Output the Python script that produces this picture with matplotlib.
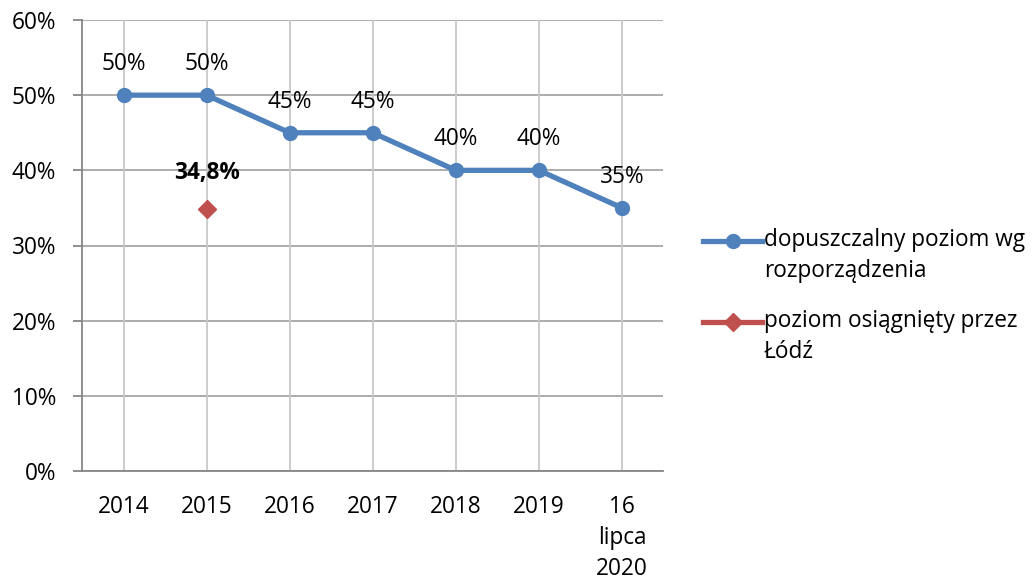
import matplotlib
matplotlib.use("Agg")
import matplotlib.pyplot as plt
from matplotlib.lines import Line2D

plt.rcParams['font.family'] = ['Open Sans', 'DejaVu Sans']

categories = ["2014", "2015", "2016", "2017", "2018", "2019", "16\nlipca\n2020"]
allowed = [50, 50, 45, 45, 40, 40, 35]
allowed_labels = ["50%", "50%", "45%", "45%", "40%", "40%", "35%"]
lodz_category = "2015"
lodz_value = 34.8
lodz_label = "34,8%"
y_ticks = [0, 10, 20, 30, 40, 50, 60]
y_tick_labels = ["0%", "10%", "20%", "30%", "40%", "50%", "60%"]
legend_labels = ["dopuszczalny poziom wg\nrozporządzenia", "poziom osiągnięty przez\nŁódź"]

W, H = 1033, 579
fig = plt.figure(figsize=(W / 100, H / 100), dpi=100)
ax = fig.add_axes([82 / W, 1 - 471 / H, (663.5 - 82) / W, (471 - 20) / H])

blue = "#4F81BD"
red = "#C0504D"
fs = 16.3

x = list(range(len(categories)))
ax.set_xlim(-0.5, len(categories) - 0.5)
ax.set_ylim(0, 60)

for yv in y_ticks:
    ax.axhline(yv, color="#a6a6a6", lw=1.3, zorder=1)
for xv in x:
    ax.axvline(xv, color="#c8c8c8", lw=1.3, zorder=1)

ax.plot(x, allowed, color=blue, lw=3.8, marker="o", ms=10, zorder=3)
xi = categories.index(lodz_category)
ax.plot([xi], [lodz_value], color=red, marker="D", ms=9, ls="none", zorder=3)

for xv, yv, lab in zip(x, allowed, allowed_labels):
    ax.annotate(lab, (xv, yv), xytext=(0, 18), textcoords="offset points",
                ha="center", va="baseline", fontsize=fs)
ax.annotate(lodz_label, (xi, lodz_value), xytext=(0, 22), textcoords="offset points",
            ha="center", va="baseline", fontsize=fs, fontweight="bold")

for s in ["top", "right"]:
    ax.spines[s].set_visible(False)
ax.spines["left"].set_color("#868686")
ax.spines["bottom"].set_color("#868686")
ax.spines["left"].set_linewidth(1.3)
ax.spines["bottom"].set_linewidth(1.3)

ax.set_yticks(y_ticks)
ax.set_yticklabels(y_tick_labels, fontsize=fs)
ax.tick_params(axis="y", length=6.5, width=1.3, color="#868686", pad=12)
ax.set_xticks(x)
ax.set_xticklabels(categories, fontsize=fs, linespacing=1.4)
ax.tick_params(axis="x", length=0, pad=17)

# legend
def legend_entry(yc, color, marker, ms, label):
    fig.add_artist(Line2D([703 / W, 762 / W], [1 - yc / H, 1 - yc / H], color=color, lw=3.8,
                          transform=fig.transFigure))
    fig.add_artist(Line2D([732.5 / W], [1 - yc / H], color=color, marker=marker, ms=ms,
                          transform=fig.transFigure))
    fig.text(764 / W, 1 - (yc - 13) / H, label, fontsize=fs, va="top", ha="left",
             linespacing=1.37)

legend_entry(241, blue, "o", 10, legend_labels[0])
legend_entry(322, red, "D", 9, legend_labels[1])

fig.savefig("out.png", dpi=100)
